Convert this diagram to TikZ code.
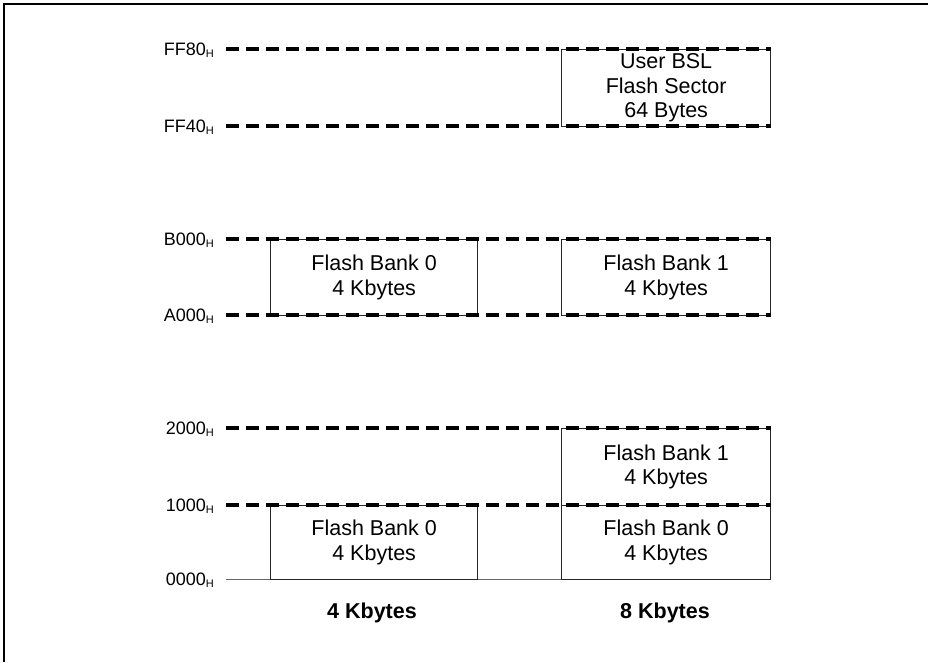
\documentclass[tikz,border=0pt]{standalone}
\usepackage{fontspec}
\setmainfont{Liberation Sans}
\begin{document}
\begin{tikzpicture}[x=1pt,y=-1pt,
  membox/.style={draw=black!85, line width=1.3pt, rectangle, inner sep=0pt, anchor=north west,
    align=center, font=\fontsize{21.5}{24.5}\selectfont},
  bound/.style={line width=3.3pt, dash pattern=on 13pt off 7pt},
  addr/.style={anchor=base east, inner sep=0pt, font=\fontsize{18}{18}\selectfont},
  colname/.style={font=\bfseries\fontsize{21.5}{21.5}\selectfont, inner sep=0pt}]
\useasboundingbox (0,0) rectangle (928,662);
\newcommand{\hsub}{{\fontsize{11}{11}\selectfont\raisebox{-2pt}{H}}}
% frame
\draw[line width=2pt] (4,662) -- (4,4) -- (930,4);
% boundary coordinates
\foreach \n/\y in {ff80/49, ff40/126, b000/239, a000/315, t2000/428, t1000/505, t0000/579}{
  \coordinate (\n L) at (226,\y);
  \coordinate (\n R) at (771,\y);
}
\draw[line width=1pt, black!60] (t0000L) -- (t0000R);
% boxes
\node[membox, minimum width=209, minimum height=77] (bsl) at (561,49) {User BSL\\Flash Sector\\64 Bytes};
\node[membox, minimum width=207, minimum height=76] (hb0) at (270,239) {Flash Bank 0\\4 Kbytes};
\node[membox, minimum width=209, minimum height=76] (hb1) at (561,239) {Flash Bank 1\\4 Kbytes};
\node[membox, minimum width=209, minimum height=77] (lb1) at (561,428) {Flash Bank 1\\4 Kbytes};
\node[membox, minimum width=207, minimum height=74] (lb0a) at (270,505) {Flash Bank 0\\4 Kbytes};
\node[membox, minimum width=209, minimum height=74] (lb0b) at (561,505) {Flash Bank 0\\4 Kbytes};
% dashed boundaries
\draw[bound] (ff80L) -- (ff80R);
\draw[bound] (ff40L) -- (ff40R);
\draw[bound] (b000L) -- (b000R);
\draw[bound] (a000L) -- (a000R);
\draw[bound] (t2000L) -- (t2000R);
\draw[bound] (t1000L) -- (t1000R);
% address labels
\node[addr] (aff80) at (214,55) {FF80\hsub};
\node[addr] (aff40) at (214,132) {FF40\hsub};
\node[addr] (ab000) at (214,245) {B000\hsub};
\node[addr] (aa000) at (214,321) {A000\hsub};
\node[addr] (a2000) at (214,434) {2000\hsub};
\node[addr] (a1000) at (214,511) {1000\hsub};
\node[addr] (a0000) at (214,585) {0000\hsub};
% column labels
\node[colname] (c4) at (372,613) {4 Kbytes};
\node[colname] (c8) at (665,613) {8 Kbytes};
\end{tikzpicture}
\end{document}
